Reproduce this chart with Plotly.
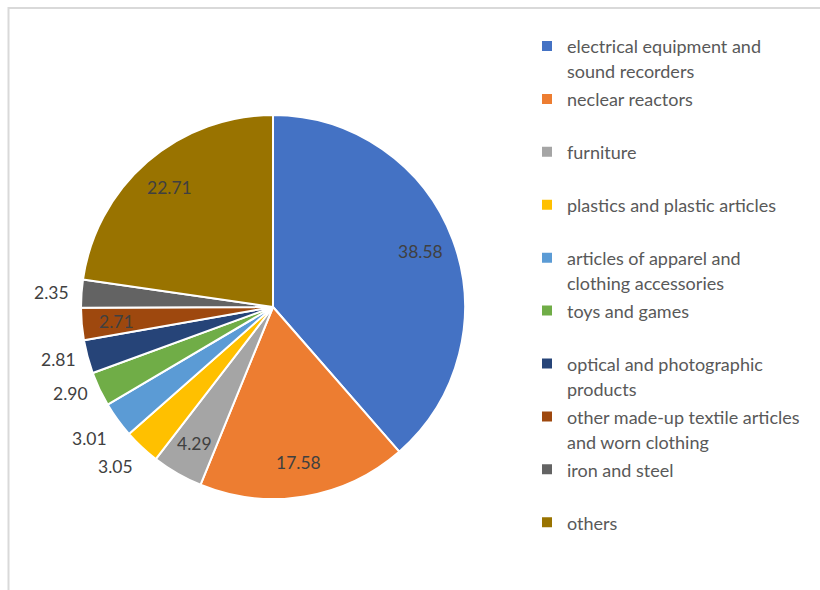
import math
import plotly.graph_objects as go

categories = [
    "electrical equipment and<br>sound recorders",
    "neclear reactors",
    "furniture",
    "plastics and plastic articles",
    "articles of apparel and<br>clothing accessories",
    "toys and games",
    "optical and photographic<br>products",
    "other made-up textile articles<br>and worn clothing",
    "iron and steel",
    "others",
]
values = [38.58, 17.58, 4.29, 3.05, 3.01, 2.90, 2.81, 2.71, 2.35, 22.71]
label_text = ["38.58", "17.58", "4.29", "3.05", "3.01", "2.90", "2.81", "2.71", "2.35", "22.71"]
label_outside = [False, False, False, True, True, True, True, False, True, False]
colors = ["#4472C4", "#ED7D31", "#A5A5A5", "#FFC000", "#5B9BD5",
          "#70AD47", "#264478", "#9E480E", "#636363", "#997300"]

W, H = 820, 590
CX, CY, R = 273, 307, 192
FONT = "Lato, Calibri, Carlito, sans-serif"

def legend_label(s):
    lines = s.split("<br>")
    if len(lines) == 1:
        lines.append("&nbsp;")
    return "<br>".join('<span style="font-size:18px">%s</span>' % ln for ln in lines)

fig = go.Figure()
fig.add_trace(go.Pie(
    labels=[legend_label(c) for c in categories],
    values=values,
    sort=False,
    direction="clockwise",
    rotation=0,
    marker=dict(colors=colors, line=dict(color="white", width=2)),
    textinfo="none",
    hoverinfo="label+value",
    domain=dict(x=[(CX - R) / W, (CX + R) / W], y=[(H - CY - R) / H, (H - CY + R) / H]),
    showlegend=True,
))

total = sum(values)
cum = 0.0
annotations = []
for v, t, out in zip(values, label_text, label_outside):
    theta = 2 * math.pi * (cum + v / 2) / total
    cum += v
    s, c = math.sin(theta), math.cos(theta)
    if out:
        r = R + 10
        xanchor = "right" if s < -0.3 else ("left" if s > 0.3 else "center")
        yanchor = "top" if c < -0.5 else ("bottom" if c > 0.5 else "middle")
    else:
        r = R * 0.82
        xanchor, yanchor = "center", "middle"
    px = CX + r * s
    py = CY - r * c
    annotations.append(dict(
        x=px / W, y=1 - py / H, xref="paper", yref="paper",
        text=t, showarrow=False, xanchor=xanchor, yanchor=yanchor,
        font=dict(family=FONT, size=17.5, color="#404040"),
    ))

fig.update_layout(
    width=W, height=H,
    margin=dict(l=0, r=0, t=0, b=0),
    paper_bgcolor="white",
    plot_bgcolor="white",
    font=dict(family=FONT, color="#595959"),
    legend=dict(
        x=527 / W, y=1 - 27 / H, xanchor="left", yanchor="top",
        font=dict(family=FONT, size=19.2, color="#595959"),
        valign="top", itemwidth=30, bgcolor="rgba(0,0,0,0)",
    ),
    annotations=annotations,
    shapes=[dict(
        type="rect", xref="paper", yref="paper",
        x0=8.5 / W, x1=1.1, y0=-0.1, y1=1 - 8 / H,
        line=dict(color="#d9d9d9", width=2), fillcolor="rgba(0,0,0,0)", layer="below",
    )],
)

fig.write_html("out.html")
